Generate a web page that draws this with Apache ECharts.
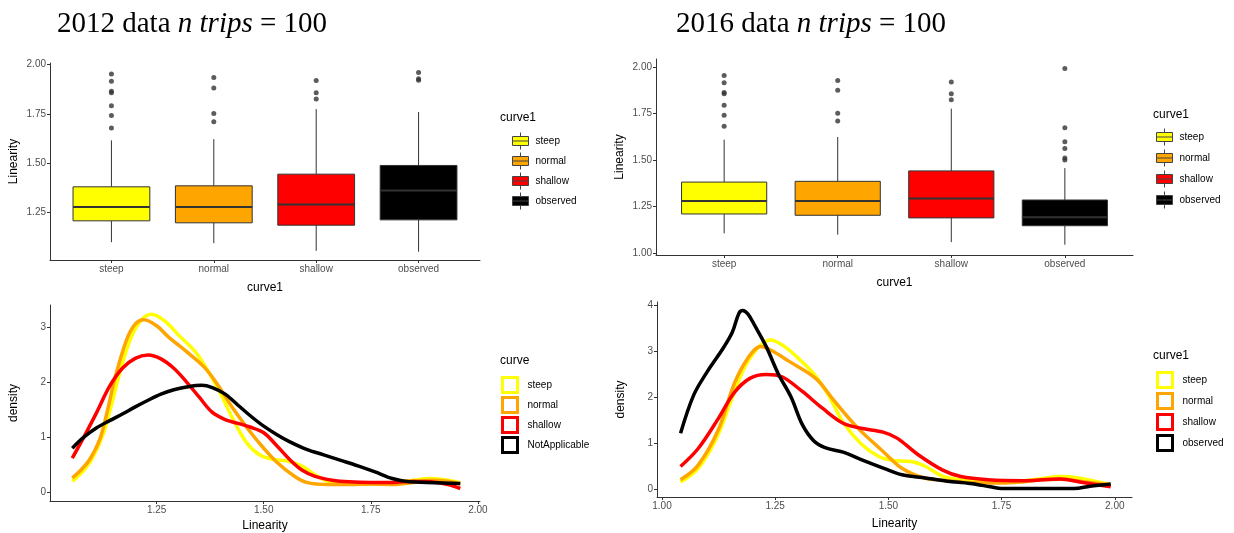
<!DOCTYPE html>
<html>
<head>
<meta charset="utf-8">
<script src="https://cdn.jsdelivr.net/npm/echarts@6/dist/echarts.min.js"></script>
<style>html,body{margin:0;padding:0;background:#fff;}#c{width:1234px;height:533px;}</style>
</head>
<body>
<div id="c"></div>
<script>
// ---------- DATA ----------
const categories = ['steep', 'normal', 'shallow', 'observed'];
const densityNames2012 = ['steep', 'normal', 'shallow', 'NotApplicable'];
const densityNames2016 = ['steep', 'normal', 'shallow', 'observed'];
const colors = ['#FFFF00', '#FFA500', '#FF0000', '#000000'];

// box stats: [lower whisker, Q1, median, Q3, upper whisker]
const box2012Steep = [1.101, 1.209, 1.279, 1.381, 1.616];
const box2012Normal = [1.096, 1.199, 1.279, 1.386, 1.622];
const box2012Shallow = [1.057, 1.187, 1.292, 1.445, 1.774];
const box2012Observed = [1.053, 1.214, 1.362, 1.489, 1.759];

const box2016Steep = [1.107, 1.211, 1.280, 1.382, 1.609];
const box2016Normal = [1.100, 1.204, 1.280, 1.386, 1.624];
const box2016Shallow = [1.060, 1.190, 1.294, 1.442, 1.776];
const box2016Observed = [1.046, 1.148, 1.194, 1.286, 1.457];

// outliers
const out2012Steep = [1.951, 1.915, 1.864, 1.856, 1.791, 1.742, 1.679];
const out2012Normal = [1.934, 1.880, 1.752, 1.710];
const out2012Shallow = [1.919, 1.857, 1.825];
const out2012Observed = [1.959, 1.927, 1.920];

const out2016Steep = [1.954, 1.915, 1.863, 1.856, 1.794, 1.740, 1.681];
const out2016Normal = [1.927, 1.874, 1.751, 1.710];
const out2016Shallow = [1.918, 1.856, 1.824];
const out2016Observed = [1.991, 1.673, 1.598, 1.562, 1.511, 1.500];

// density curves [Linearity, density]
const dens2012Steep = [[1.053,0.2],[1.08,0.4],[1.10,0.62],[1.125,1.05],[1.145,1.6],[1.165,2.2],[1.19,2.8],[1.215,3.13],[1.238,3.23],[1.27,3.1],[1.30,2.86],[1.34,2.55],[1.37,2.2],[1.40,1.78],[1.43,1.3],[1.46,0.9],[1.49,0.68],[1.52,0.6],[1.56,0.56],[1.59,0.47],[1.62,0.32],[1.65,0.2],[1.70,0.15],[1.75,0.15],[1.80,0.17],[1.85,0.22],[1.89,0.25],[1.93,0.22],[1.959,0.17]];
const dens2012Normal = [[1.053,0.26],[1.075,0.42],[1.094,0.6],[1.118,0.98],[1.135,1.48],[1.153,2.08],[1.18,2.77],[1.20,3.05],[1.22,3.13],[1.25,3.02],[1.28,2.8],[1.32,2.55],[1.36,2.28],[1.39,1.98],[1.43,1.5],[1.47,1.08],[1.50,0.8],[1.53,0.55],[1.57,0.3],[1.60,0.18],[1.65,0.14],[1.70,0.14],[1.75,0.15],[1.80,0.14],[1.85,0.18],[1.89,0.22],[1.93,0.2],[1.959,0.15]];
const dens2012Shallow = [[1.053,0.62],[1.08,1.0],[1.11,1.45],[1.14,1.92],[1.17,2.25],[1.20,2.43],[1.23,2.49],[1.26,2.42],[1.29,2.25],[1.32,2.0],[1.35,1.72],[1.38,1.45],[1.41,1.32],[1.44,1.25],[1.47,1.18],[1.50,1.08],[1.53,0.85],[1.56,0.6],[1.59,0.4],[1.62,0.29],[1.66,0.22],[1.70,0.19],[1.75,0.18],[1.80,0.18],[1.85,0.2],[1.89,0.19],[1.93,0.14],[1.959,0.07]];
const dens2012Observed = [[1.053,0.8],[1.08,1.0],[1.11,1.17],[1.14,1.3],[1.17,1.42],[1.20,1.55],[1.23,1.67],[1.26,1.78],[1.29,1.86],[1.32,1.91],[1.355,1.94],[1.38,1.9],[1.41,1.78],[1.44,1.58],[1.47,1.38],[1.50,1.2],[1.53,1.05],[1.56,0.92],[1.60,0.78],[1.64,0.68],[1.68,0.58],[1.72,0.48],[1.76,0.37],[1.80,0.25],[1.84,0.19],[1.88,0.18],[1.92,0.17],[1.959,0.16]];

const dens2016Steep = [[1.041,0.15],[1.08,0.45],[1.12,1.1],[1.15,1.85],[1.18,2.6],[1.21,3.05],[1.24,3.24],[1.27,3.1],[1.30,2.85],[1.34,2.45],[1.37,2.0],[1.40,1.45],[1.44,0.98],[1.48,0.7],[1.51,0.62],[1.55,0.6],[1.58,0.5],[1.62,0.28],[1.66,0.2],[1.70,0.17],[1.75,0.16],[1.80,0.18],[1.84,0.23],[1.88,0.27],[1.92,0.24],[1.96,0.16],[1.991,0.09]];
const dens2016Normal = [[1.041,0.2],[1.08,0.52],[1.125,1.3],[1.16,2.3],[1.19,2.85],[1.218,3.1],[1.24,3.02],[1.28,2.78],[1.34,2.4],[1.38,1.92],[1.43,1.35],[1.49,0.8],[1.53,0.45],[1.575,0.25],[1.62,0.19],[1.70,0.13],[1.75,0.13],[1.80,0.16],[1.84,0.2],[1.88,0.21],[1.93,0.16],[1.991,0.09]];
const dens2016Shallow = [[1.041,0.49],[1.08,0.88],[1.125,1.54],[1.16,2.1],[1.195,2.41],[1.23,2.49],[1.265,2.44],[1.31,2.12],[1.355,1.75],[1.40,1.43],[1.44,1.32],[1.49,1.23],[1.52,1.1],[1.565,0.75],[1.62,0.41],[1.66,0.27],[1.72,0.2],[1.80,0.18],[1.88,0.22],[1.93,0.14],[1.991,0.05]];
const dens2016Observed = [[1.041,1.21],[1.07,2.04],[1.10,2.55],[1.135,3.06],[1.155,3.4],[1.17,3.82],[1.178,3.88],[1.19,3.8],[1.205,3.55],[1.23,3.1],[1.257,2.5],[1.285,2.0],[1.31,1.4],[1.335,1.05],[1.36,0.9],[1.40,0.8],[1.44,0.64],[1.49,0.45],[1.53,0.31],[1.575,0.25],[1.63,0.17],[1.68,0.12],[1.725,0.05],[1.75,0.01],[1.84,0.01],[1.91,0.01],[1.945,0.06],[1.991,0.11]];

const linTicks2012 = [1.25, 1.50, 1.75, 2.00];
const linTicks2016 = [1.00, 1.25, 1.50, 1.75, 2.00];
const densTicks2012 = [0, 1, 2, 3];
const densTicks2016 = [0, 1, 2, 3, 4];
const xTicksDens2012 = [1.25, 1.50, 1.75, 2.00];
const xTicksDens2016 = [1.00, 1.25, 1.50, 1.75, 2.00];
const catTicks = [1, 2, 3, 4];

// ---------- BUILD ----------
const SANS = 'Liberation Sans';
const SERIF = 'Liberation Serif';

function axisBase(gridIndex, min, max, ticks, fmt, name, nameGap, isY) {
  return {
    type: 'value', gridIndex, min, max,
    name, nameLocation: 'middle', nameGap,
    nameRotate: isY ? 90 : 0,
    nameTextStyle: {color: '#000', fontSize: 12, fontFamily: SANS},
    axisLine: {show: true, onZero: false, lineStyle: {color: '#333', width: 1}},
    axisTick: {show: true, length: 3, customValues: ticks, lineStyle: {color: '#333', width: 1}},
    axisLabel: {show: true, customValues: ticks, formatter: fmt, color: '#4D4D4D', fontSize: 10, fontFamily: SANS, margin: 4},
    splitLine: {show: false}
  };
}
const fmt2 = v => Number(v).toFixed(2);
const fmt0 = v => String(Math.round(v));
const fmtCat = v => categories[Math.round(v) - 1] || '';

function boxRender(params, api) {
  const x = api.value(0);
  const lo = api.value(1), q1 = api.value(2), med = api.value(3), q3 = api.value(4), hi = api.value(5);
  const hw = 0.375;
  const pHi = api.coord([x, hi]), pQ3 = api.coord([x, q3]), pQ1 = api.coord([x, q1]), pLo = api.coord([x, lo]);
  const pMed = api.coord([x, med]);
  const l = api.coord([x - hw, q3])[0], r = api.coord([x + hw, q3])[0];
  const fill = api.visual('color');
  return {type: 'group', children: [
    {type: 'line', shape: {x1: pHi[0], y1: pHi[1], x2: pQ3[0], y2: pQ3[1]}, style: {stroke: '#333', lineWidth: 1}},
    {type: 'line', shape: {x1: pLo[0], y1: pLo[1], x2: pQ1[0], y2: pQ1[1]}, style: {stroke: '#333', lineWidth: 1}},
    {type: 'rect', shape: {x: l, y: pQ3[1], width: r - l, height: pQ1[1] - pQ3[1]}, style: {fill: fill, stroke: '#333', lineWidth: 1}},
    {type: 'line', shape: {x1: l, y1: pMed[1], x2: r, y2: pMed[1]}, style: {stroke: '#333', lineWidth: 2}}
  ]};
}

const boxes2012 = [box2012Steep, box2012Normal, box2012Shallow, box2012Observed];
const boxes2016 = [box2016Steep, box2016Normal, box2016Shallow, box2016Observed];
const outs2012 = [out2012Steep, out2012Normal, out2012Shallow, out2012Observed];
const outs2016 = [out2016Steep, out2016Normal, out2016Shallow, out2016Observed];
const dens2012 = [dens2012Steep, dens2012Normal, dens2012Shallow, dens2012Observed];
const dens2016 = [dens2016Steep, dens2016Normal, dens2016Shallow, dens2016Observed];

const series = [];
function addBoxPanel(idx, boxes, outs) {
  boxes.forEach((b, i) => {
    series.push({
      type: 'custom', name: categories[i], xAxisIndex: idx, yAxisIndex: idx,
      renderItem: boxRender, itemStyle: {color: colors[i]},
      encode: {x: 0, y: [1, 2, 3, 4, 5]},
      data: [[i + 1].concat(b)], z: 2
    });
  });
  const pts = [];
  outs.forEach((arr, i) => arr.forEach(v => pts.push([i + 1, v])));
  series.push({
    type: 'scatter', name: 'outlier', xAxisIndex: idx, yAxisIndex: idx,
    symbolSize: 5, itemStyle: {color: '#333'}, data: pts, z: 3
  });
}
function addDensPanel(idx, curves, names) {
  curves.forEach((c, i) => {
    series.push({
      type: 'line', name: names[i], xAxisIndex: idx, yAxisIndex: idx,
      data: c, smooth: 0.35, showSymbol: false, symbol: 'none',
      lineStyle: {color: colors[i], width: 3.5}, itemStyle: {color: colors[i]}, z: 2 + i
    });
  });
}
addBoxPanel(0, boxes2012, outs2012);
addBoxPanel(1, boxes2016, outs2016);
addDensPanel(2, dens2012, densityNames2012);
addDensPanel(3, dens2016, densityNames2016);

// boxplot key glyph: box with median and whisker stubs
const BOX_KEY = 'path://M0,4 L16,4 L16,13 L0,13 Z M8,0 L8,4 M8,13 L8,17 M0,8.5 L16,8.5';
function boxLegend(left, top, gap) {
  return {
    orient: 'vertical', left, top, itemWidth: 16, itemHeight: 17, itemGap: gap,
    selectedMode: false, padding: 0,
    textStyle: {color: '#000', fontSize: 10, fontFamily: SANS, padding: [0, 0, 0, 2]},
    data: categories.map((n, i) => ({name: n, icon: BOX_KEY, itemStyle: {color: colors[i], borderColor: '#444', borderWidth: 1}}))
  };
}
function densLegend(left, top, gap, names) {
  return {
    orient: 'vertical', left, top, itemWidth: 15, itemHeight: 15, itemGap: gap,
    selectedMode: false, padding: 0,
    textStyle: {color: '#000', fontSize: 10, fontFamily: SANS, padding: [0, 0, 0, 5]},
    data: names.map((n, i) => ({name: n, icon: 'rect', itemStyle: {color: '#fff', borderColor: colors[i], borderWidth: 3}}))
  };
}
function bigTitle(left, year) {
  return {
    left, top: 10, padding: 0,
    text: '{a|' + year + ' data }{b|n trips}{a| = 100}',
    textStyle: {fontWeight: 'normal', fontFamily: SERIF, fontSize: 29, rich: {
      a: {fontFamily: SERIF, fontSize: 29, color: '#000', fontWeight: 'normal'},
      b: {fontFamily: SERIF, fontSize: 29, color: '#000', fontStyle: 'italic', fontWeight: 'normal'}
    }}
  };
}
function legTitle(left, top, text) {
  return {left, top, padding: 0, text, textStyle: {fontFamily: SANS, fontSize: 12, fontWeight: 'normal', color: '#000'}};
}

const option = {
  animation: false,
  backgroundColor: '#fff',
  title: [
    bigTitle(57, '2012'), bigTitle(676, '2016'),
    legTitle(500, 112, 'curve1'), legTitle(1153, 109, 'curve1'),
    legTitle(500, 355, 'curve'), legTitle(1153, 350, 'curve1')
  ],
  grid: [
    {left: 50, top: 63, width: 430, height: 197},
    {left: 656, top: 59, width: 477, height: 196},
    {left: 50, top: 305, width: 430, height: 197},
    {left: 657, top: 302, width: 475, height: 195}
  ],
  xAxis: [
    axisBase(0, 0.4, 4.6, catTicks, fmtCat, 'curve1', 22, false),
    axisBase(1, 0.4, 4.6, catTicks, fmtCat, 'curve1', 22, false),
    axisBase(2, 1.001, 2.005, xTicksDens2012, fmt2, 'Linearity', 19, false),
    axisBase(3, 0.989, 2.038, xTicksDens2016, fmt2, 'Linearity', 21, false)
  ],
  yAxis: [
    axisBase(0, 1.011, 2.007, linTicks2012, fmt2, 'Linearity', 30, true),
    axisBase(1, 0.991, 2.042, linTicks2016, fmt2, 'Linearity', 30, true),
    axisBase(2, -0.157, 3.397, densTicks2012, fmt0, 'density', 30, true),
    axisBase(3, -0.174, 4.065, densTicks2016, fmt0, 'density', 30, true)
  ],
  legend: [
    boxLegend(512, 132, 2),
    boxLegend(1156, 128, 3),
    densLegend(501, 376, 2, densityNames2012),
    densLegend(1156, 371, 3, densityNames2016)
  ],
  series
};
const chart = echarts.init(document.getElementById('c'), null, {renderer: 'canvas'});
chart.setOption(option);
</script>
</body>
</html>
